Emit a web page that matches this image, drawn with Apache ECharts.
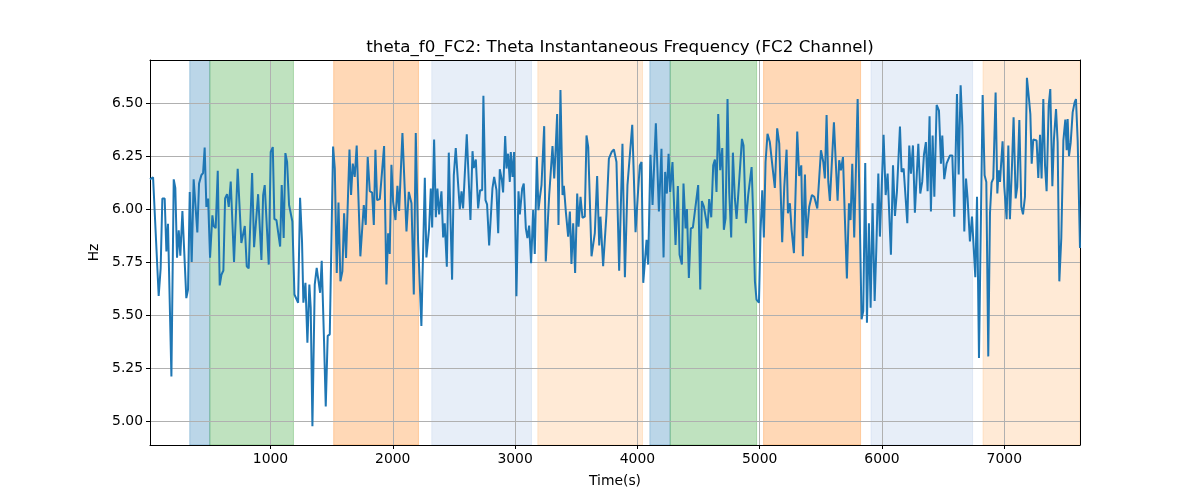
<!DOCTYPE html>
<html><head><meta charset="utf-8">
<script src="https://cdn.jsdelivr.net/npm/echarts@6/dist/echarts.min.js"></script>
<style>html,body{margin:0;padding:0;background:#fff}#c{width:1200px;height:500px}</style>
</head><body><div id="c"></div>
<script>
const timeS = [15,40,86,102,116,135,149,162,190,209,222,236,250,263,280,312,326,340,356,372,402,416,435,449,462,476,490,506,525,536,552,569,585,599,615,629,645,659,675,702,732,762,790,806,822,850,866,899,926,
940,953,986,1002,1019,1032,1049,1079,1092,1108,1122,1136,1152,1179,1196,1212,1226,1242,1258,1269,1286,1302,1318,1329,1343,1362,1378,1406,1419,1438,1452,1468,1485,1512,1526,1542,1556,1572,1588,1602,1618,1646,1659,1673,1689,1705,1735,1763,1779,1795,1812,1831,1845,1858,1872,1894,
1929,1948,1962,1975,1989,2003,2022,2038,2052,2079,2112,2131,2153,2172,2188,2207,2234,2262,2275,2297,2311,2322,2338,2352,2365,2379,2398,2412,2425,2442,2458,2485,2499,2515,2534,2548,2562,2575,2605,2635,2652,2662,2679,2698,2714,2731,2741,2758,2771,2788,2815,2829,
2848,2862,2875,2892,2902,2919,2930,2943,2957,2965,2979,2992,3011,3028,3039,3058,3071,3088,3101,3115,3131,3148,3161,3178,3191,3202,3216,3238,3251,3279,3306,3320,3330,3344,3355,3371,3388,3399,3415,3434,3448,3461,3475,3491,3508,3519,3535,3551,3570,3584,3598,3625,3652,3671,3688,3698,3720,3747,3767,
3789,3808,3829,3851,3878,3898,3919,3958,3985,4007,4020,4034,4048,4061,4075,4088,4107,4124,4151,4176,4197,4214,4227,4241,4255,4268,4287,4312,4331,4345,4364,4377,4394,4405,4421,4437,4454,4470,4497,4514,4527,4544,4560,4574,4587,4604,4620,4634,4647,4661,4677,4694,4707,
4721,4737,4751,4767,4781,4797,4811,4830,4855,4868,4887,4906,4934,4947,4961,4974,4994,5007,5021,5034,5048,5064,5083,5105,5124,5143,5160,5184,5201,5220,5231,5247,5261,5280,5307,5323,5340,5353,5370,5383,5405,5427,5446,5471,5501,5520,5533,5547,5561,5574,5607,5629,5637,5650,
5664,5681,5697,5713,5730,5743,5757,5773,5801,5833,5847,5863,5877,5893,5907,5923,5940,5953,5970,5983,6013,6030,6046,6073,6090,6106,6122,6147,6160,6177,6207,6223,6237,6253,6269,6297,6313,6329,6343,6359,6373,6389,6400,6414,6428,6447,6466,6482,6493,6509,6528,6556,6575,6591,
6613,6627,6643,6657,6673,6687,6700,6719,6736,6747,6763,6777,6793,6823,6839,6853,6869,6883,6896,6910,6929,6943,6954,6965,6970,6986,7000,7019,7033,7046,7063,7076,7093,7106,7123,7139,7153,7169,7185,7202,7213,7224,7237,7251,7264,7278,7292,7305,7319,7333,7346,7363,7376,7393,7406,7423,7436,7450,7466,7483,7499,7510,7518,7529,7543,7559,7575,7586,7600,7619];

const thetaHz = [6.14,6.15,5.59,5.72,6.05,6.05,5.80,5.93,5.21,6.14,6.10,5.77,5.90,5.78,5.99,5.58,5.62,6.08,5.75,6.14,5.89,6.12,6.16,6.17,6.29,6.01,6.05,5.77,5.97,5.92,5.91,6.18,5.64,5.69,5.71,6.05,6.07,6.01,6.13,5.75,6.19,5.84,5.92,5.73,5.72,6.17,5.82,6.07,5.76,
6.066,6.113,5.738,6.269,6.292,5.953,5.948,5.823,6.113,5.863,6.264,6.222,6.019,5.941,5.597,5.605,5.558,6.053,5.847,5.558,5.652,5.370,5.644,5.534,4.975,5.644,5.722,5.605,5.756,5.378,5.069,5.402,5.409,6.295,6.191,5.698,6.031,5.659,5.706,5.980,5.769,6.281,6.066,6.214,6.152,6.300,5.777,6.019,5.925,6.245,6.084,6.078,5.925,6.280,6.042,6.047,
6.297,5.644,5.886,5.788,6.209,6.034,5.948,6.109,5.991,6.359,5.894,6.081,6.027,5.597,6.359,5.847,5.448,6.147,5.772,5.909,6.097,5.913,6.328,5.961,6.097,5.975,6.084,5.866,5.933,5.728,6.266,5.667,6.159,6.288,6.120,6.000,6.084,6.003,6.353,5.948,6.273,6.194,6.234,6.003,6.089,6.089,6.534,6.042,6.022,5.828,6.097,6.152,
6.089,5.886,6.188,6.136,6.078,6.344,6.191,6.261,6.128,6.269,6.152,6.269,5.589,6.084,5.975,6.097,6.120,5.909,5.863,5.922,5.745,5.995,5.788,6.245,5.995,6.050,6.113,6.391,5.753,6.066,6.297,6.144,6.261,6.448,5.925,6.561,6.066,6.109,5.988,5.870,5.988,5.741,5.933,5.698,6.073,5.917,6.058,5.959,5.964,6.347,6.292,5.777,5.886,6.156,5.828,5.964,5.730,5.975,6.238,
6.269,6.281,6.222,5.709,6.308,5.678,6.113,6.397,5.891,6.097,6.206,6.222,5.652,5.655,5.855,5.738,6.256,6.019,6.405,5.988,6.284,5.772,6.175,6.073,6.261,6.081,6.222,5.831,6.109,5.784,5.738,6.120,5.909,6.000,5.675,5.909,5.913,5.988,6.113,5.620,6.038,6.011,6.009,5.909,6.047,5.961,6.206,6.233,6.081,6.448,6.183,6.288,5.902,
5.956,6.519,6.081,5.866,6.266,6.050,5.953,6.113,6.331,6.300,5.933,6.066,6.198,5.972,5.659,5.573,5.558,5.894,6.089,5.866,6.222,6.355,6.316,6.198,6.100,6.381,6.308,5.844,6.105,6.280,5.980,6.027,5.902,5.792,6.366,6.156,6.206,5.777,6.163,5.863,6.011,6.066,6.058,6.003,6.277,6.222,6.144,6.444,6.128,6.038,6.409,6.136,6.039,6.230,
6.183,6.245,5.948,5.672,6.027,5.948,6.214,5.866,6.519,5.480,5.519,6.217,5.464,5.933,5.534,6.027,5.566,5.800,6.167,5.870,6.350,6.066,6.167,5.784,6.206,5.967,6.081,6.389,6.175,6.191,5.933,6.300,6.167,6.300,5.983,6.308,6.073,6.128,6.256,6.316,6.084,6.438,5.988,6.347,6.058,6.491,6.464,6.214,6.347,6.141,6.214,6.253,6.253,5.964,
6.542,6.163,6.584,6.394,5.894,6.144,6.050,5.847,5.964,5.847,5.678,6.058,5.297,6.538,6.159,6.128,5.305,5.980,6.125,6.144,6.550,6.073,6.183,6.128,6.175,6.319,6.105,5.952,6.300,5.952,6.206,6.433,6.050,6.105,6.420,6.011,5.975,6.058,6.619,6.519,6.448,6.214,6.328,6.328,6.323,6.147,6.350,6.144,6.519,6.206,6.084,6.488,6.566,6.108,6.331,6.472,6.316,5.659,5.863,6.323,6.422,6.277,6.425,6.250,6.313,6.456,6.503,6.519,6.323,5.816];

const bandStart = [340, 504, 1517, 2319, 3186, 4102, 4268, 5032, 5910, 6826];
const bandEnd   = [504, 1188, 2210, 3134, 4042, 4268, 4975, 5825, 6741, 7619];
const bandKind  = [0, 1, 2, 3, 4, 0, 1, 2, 3, 4];

const xTicks = [1000, 2000, 3000, 4000, 5000, 6000, 7000];
const yTicks = [5.00, 5.25, 5.50, 5.75, 6.00, 6.25, 6.50];
const xRange = [15, 7619];
const yRange = [4.887, 6.703];

const kindColors = ['rgba(31,119,180,0.3)', 'rgba(44,160,44,0.3)', 'rgba(255,127,14,0.3)', 'rgba(174,199,232,0.3)', 'rgba(255,187,120,0.3)'];
const FONT = 'DejaVu Sans';
const chart = echarts.init(document.getElementById('c'), null, {renderer: 'canvas'});
const lineData = timeS.map((t, i) => [t, thetaHz[i]]);
const bandData = bandStart.map((s, i) => [s, bandEnd[i], bandKind[i]]);
const labelStyle = {color: '#000', fontFamily: FONT, fontSize: 13.9};

chart.setOption({
  animation: false,
  backgroundColor: '#fff',
  title: {
    text: 'theta_f0_FC2: Theta Instantaneous Frequency (FC2 Channel)',
    left: 615, top: 34, textAlign: 'center',
    textStyle: {fontFamily: FONT, fontSize: 16.7, fontWeight: 'normal', color: '#000'}
  },
  grid: {left: 150, right: 120, top: 60, bottom: 55},
  xAxis: [{
    type: 'value', min: xRange[0], max: xRange[1], z: 3,
    name: 'Time(s)', nameLocation: 'middle', nameGap: 29,
    nameTextStyle: labelStyle,
    axisLine: {onZero: false, lineStyle: {color: '#000', width: 1}},
    axisTick: {show: true, length: 4, customValues: xTicks, lineStyle: {color: '#000', width: 1}},
    axisLabel: {customValues: xTicks, margin: 7, formatter: v => String(Math.round(v)), ...labelStyle},
    splitLine: {show: true, lineStyle: {color: '#b0b0b0', width: 1}}
  }, {
    type: 'value', position: 'top', min: xRange[0], max: xRange[1], z: 3,
    axisLine: {onZero: false, lineStyle: {color: '#000', width: 1}},
    axisTick: {show: false}, axisLabel: {show: false}, splitLine: {show: false}
  }],
  yAxis: [{
    type: 'value', min: yRange[0], max: yRange[1], z: 3,
    name: 'Hz', nameLocation: 'middle', nameGap: 45,
    nameTextStyle: labelStyle,
    axisLine: {show: true, onZero: false, lineStyle: {color: '#000', width: 1}},
    axisTick: {show: true, length: 4, customValues: yTicks, lineStyle: {color: '#000', width: 1}},
    axisLabel: {customValues: yTicks, margin: 7, formatter: v => v.toFixed(2), ...labelStyle},
    splitLine: {show: true, lineStyle: {color: '#b0b0b0', width: 1}}
  }, {
    type: 'value', position: 'right', min: yRange[0], max: yRange[1], z: 3,
    axisLine: {show: true, onZero: false, lineStyle: {color: '#000', width: 1}},
    axisTick: {show: false}, axisLabel: {show: false}, splitLine: {show: false}
  }],
  series: [{
    type: 'custom', z: 1, silent: true, clip: true,
    xAxisIndex: 0, yAxisIndex: 0,
    data: bandData,
    encode: {x: [0, 1]},
    renderItem: function (params, api) {
      const p0 = api.coord([api.value(0), yRange[1]]);
      const p1 = api.coord([api.value(1), yRange[0]]);
      const c = kindColors[api.value(2)];
      return {type: 'rect', shape: {x: p0[0], y: p0[1], width: p1[0] - p0[0], height: p1[1] - p0[1]},
        style: {fill: c, stroke: c, lineWidth: 1}};
    }
  }, {
    type: 'line', z: 5, xAxisIndex: 0, yAxisIndex: 0,
    data: lineData, showSymbol: false, symbol: 'none',
    lineStyle: {color: '#1f77b4', width: 2}
  }]
});
</script></body></html>
